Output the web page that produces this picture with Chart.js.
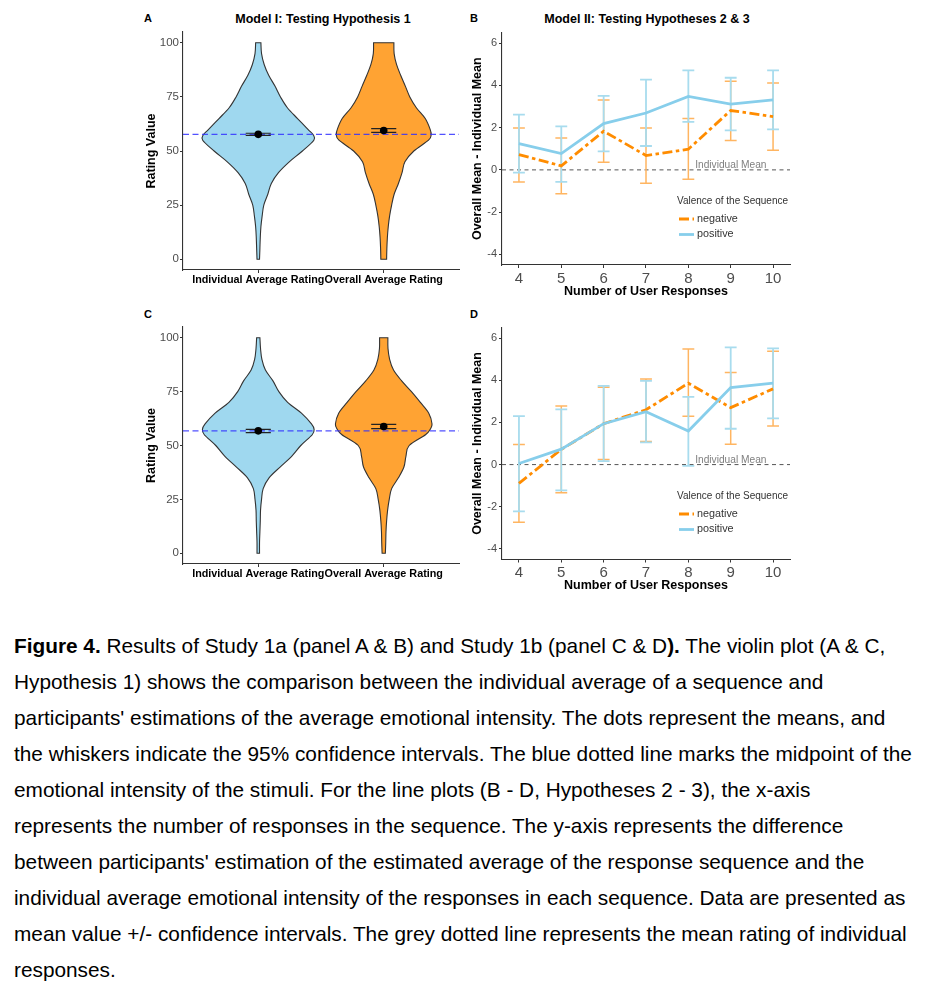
<!DOCTYPE html>
<html>
<head>
<meta charset="utf-8">
<script src="https://cdn.jsdelivr.net/npm/chart.js@4.4.0/dist/chart.umd.min.js"></script>
<style>
body { margin: 0; background: #fff; width: 930px; height: 989px; position: relative; overflow: hidden; font-family: "Liberation Sans", Arial, sans-serif; }
.panel { position: absolute; }
.letter { position: absolute; font-weight: bold; font-size: 11px; line-height: 11px; }
.title { position: absolute; font-weight: bold; font-size: 12.5px; line-height: 13px; white-space: nowrap; transform: translateX(-50%); }
#caption { position: absolute; left: 14px; top: 628px; font-size: 20.8px; line-height: 36px; white-space: nowrap; color: #000; }
</style>
</head>
<body>
<div class="letter" style="left:144px; top:13px;">A</div>
<div class="title" style="left:323px; top:13px;">Model I: Testing Hypothesis 1</div>
<div class="letter" style="left:470px; top:13px;">B</div>
<div class="title" style="left:647px; top:13px;">Model II: Testing Hypotheses 2 &amp; 3</div>
<div class="letter" style="left:144px; top:309px;">C</div>
<div class="letter" style="left:470px; top:309px;">D</div>

<div class="panel" style="left:140px; top:0px; width:323px; height:300px;"><canvas id="panelA"></canvas></div>
<div class="panel" style="left:465px; top:0px; width:340px; height:300px;"><canvas id="panelB"></canvas></div>
<div class="panel" style="left:140px; top:300px; width:323px; height:300px;"><canvas id="panelC"></canvas></div>
<div class="panel" style="left:465px; top:300px; width:340px; height:300px;"><canvas id="panelD"></canvas></div>

<div id="caption"><b>Figure 4.</b> Results of Study 1a (panel A &amp; B) and Study 1b (panel C &amp; D<b>).</b> The violin plot (A &amp; C,<br>Hypothesis 1) shows the comparison between the individual average of a sequence and<br>participants' estimations of the average emotional intensity. The dots represent the means, and<br>the whiskers indicate the 95% confidence intervals. The blue dotted line marks the midpoint of the<br>emotional intensity of the stimuli. For the line plots (B - D, Hypotheses 2 - 3), the x-axis<br>represents the number of responses in the sequence. The y-axis represents the difference<br>between participants' estimation of the estimated average of the response sequence and the<br>individual average emotional intensity of the responses in each sequence. Data are presented as<br>mean value +/- confidence intervals. The grey dotted line represents the mean rating of individual<br>responses.</div>

<script>
// ---- violin panels (A & C) ----
var violinCategories = ['Individual Average Rating', 'Overall Average Rating'];
var ratingTicks = [0, 25, 50, 75, 100];
var ratingLevels = [0, 5, 10, 15, 20, 25, 30, 35, 40, 45, 50, 55, 57.5, 60, 65, 70, 75, 80, 85, 90, 95, 100];

// violin half widths (in category units) at each rating level
var aIndividualWidth = [0.010, 0.013, 0.016, 0.021, 0.031, 0.044, 0.076, 0.104, 0.161, 0.247, 0.352, 0.443, 0.438, 0.396, 0.313, 0.232, 0.177, 0.133, 0.083, 0.047, 0.026, 0.021];
var aOverallWidth    = [0.023, 0.025, 0.029, 0.036, 0.047, 0.063, 0.083, 0.117, 0.146, 0.169, 0.240, 0.357, 0.378, 0.370, 0.331, 0.260, 0.208, 0.172, 0.135, 0.102, 0.083, 0.081];
var cIndividualWidth = [0.010, 0.010, 0.013, 0.016, 0.018, 0.026, 0.039, 0.086, 0.174, 0.266, 0.339, 0.430, 0.445, 0.424, 0.344, 0.234, 0.164, 0.117, 0.057, 0.029, 0.018, 0.013];
var cOverallWidth    = [0.013, 0.016, 0.018, 0.023, 0.031, 0.044, 0.063, 0.117, 0.161, 0.177, 0.203, 0.333, 0.370, 0.385, 0.359, 0.292, 0.221, 0.143, 0.078, 0.047, 0.034, 0.033];

var aMeans = [57.7, 59.5];
var aCiLow = [57.2, 58.6];
var aCiHigh = [58.2, 60.3];
var aMidpoint = 57.7;

var cMeans = [56.8, 58.8];
var cCiLow = [56.0, 57.8];
var cCiHigh = [57.5, 59.8];
var cMidpoint = 56.8;

// ---- line panels (B & D) ----
var userResponses = [4, 5, 6, 7, 8, 9, 10];
var diffTicks = [-4, -2, 0, 2, 4, 6];

var bNegMean = [0.72, 0.19, 1.83, 0.68, 0.98, 2.81, 2.52];
var bNegLow  = [-0.57, -1.13, 0.36, -0.63, -0.44, 1.39, 0.93];
var bNegHigh = [1.98, 1.51, 3.31, 1.98, 2.43, 4.19, 4.11];
var bPosMean = [1.24, 0.77, 2.19, 2.69, 3.48, 3.11, 3.31];
var bPosLow  = [-0.13, -0.57, 0.88, 1.13, 2.27, 1.87, 1.92];
var bPosHigh = [2.61, 2.06, 3.50, 4.27, 4.71, 4.36, 4.71];

var dNegMean = [-0.89, 0.72, 1.94, 2.60, 3.86, 2.70, 3.59];
var dNegLow  = [-2.73, -1.33, 0.24, 1.10, 2.29, 0.97, 1.83];
var dNegHigh = [0.95, 2.78, 3.67, 4.06, 5.48, 4.37, 5.37];
var dPosMean = [0.05, 0.73, 1.94, 2.51, 1.59, 3.65, 3.86];
var dPosLow  = [-2.22, -1.22, 0.16, 1.05, -0.06, 1.70, 2.19];
var dPosHigh = [2.30, 2.62, 3.73, 3.97, 3.21, 5.56, 5.51];

var fontFamily = '"Liberation Sans", Arial, sans-serif';
Chart.defaults.font.family = fontFamily;

var orangeLine = '#FF8C00';
var blueLine = '#87CEEB';

function curveThrough(ctx, pts) {
    for (var i = 0; i < pts.length - 1; i++) {
        var p0 = pts[i - 1] || pts[i], p1 = pts[i], p2 = pts[i + 1], p3 = pts[i + 2] || pts[i + 1];
        ctx.bezierCurveTo(
            p1[0] + (p2[0] - p0[0]) / 6, p1[1] + (p2[1] - p0[1]) / 6,
            p2[0] - (p3[0] - p1[0]) / 6, p2[1] - (p3[1] - p1[1]) / 6,
            p2[0], p2[1]);
    }
}

var violinPlugin = {
    id: 'violins',
    beforeDatasetsDraw: function (chart, args, opts) {
        var ctx = chart.ctx, xs = chart.scales.x, ys = chart.scales.y, area = chart.chartArea;
        ctx.save();
        opts.widths.forEach(function (w, i) {
            var center = i + 1, right = [], left = [], k;
            for (k = 0; k < ratingLevels.length; k++) {
                right.push([xs.getPixelForValue(center + w[k]), ys.getPixelForValue(ratingLevels[k])]);
            }
            for (k = ratingLevels.length - 1; k >= 0; k--) {
                left.push([xs.getPixelForValue(center - w[k]), ys.getPixelForValue(ratingLevels[k])]);
            }
            ctx.beginPath();
            ctx.moveTo(right[0][0], right[0][1]);
            curveThrough(ctx, right);
            ctx.lineTo(left[0][0], left[0][1]);
            curveThrough(ctx, left);
            ctx.closePath();
            ctx.fillStyle = opts.fills[i];
            ctx.fill();
            ctx.lineWidth = 1.1;
            ctx.strokeStyle = '#333';
            ctx.stroke();
        });

        // midpoint reference line
        var yRef = ys.getPixelForValue(opts.midpoint);
        ctx.beginPath();
        ctx.setLineDash([6, 3.5]);
        ctx.strokeStyle = 'rgba(50,50,255,0.85)';
        ctx.lineWidth = 1.3;
        ctx.moveTo(area.left, yRef);
        ctx.lineTo(area.right, yRef);
        ctx.stroke();
        ctx.setLineDash([]);

        // 95% CI whiskers
        ctx.strokeStyle = '#222';
        ctx.lineWidth = 1.2;
        opts.ciLow.forEach(function (lo, i) {
            var c = i + 1;
            var xl = xs.getPixelForValue(c - 0.1), xr = xs.getPixelForValue(c + 0.1), xc = xs.getPixelForValue(c);
            var yl = ys.getPixelForValue(lo), yh = ys.getPixelForValue(opts.ciHigh[i]);
            ctx.beginPath();
            ctx.moveTo(xl, yl); ctx.lineTo(xr, yl);
            ctx.moveTo(xl, yh); ctx.lineTo(xr, yh);
            ctx.moveTo(xc, yl); ctx.lineTo(xc, yh);
            ctx.stroke();
        });
        ctx.restore();
    }
};

var errorBarPlugin = {
    id: 'errorBars',
    beforeDatasetsDraw: function (chart, args, opts) {
        var ctx = chart.ctx, xs = chart.scales.x, ys = chart.scales.y, area = chart.chartArea;
        ctx.save();
        var y0 = ys.getPixelForValue(0);
        ctx.strokeStyle = '#555';
        ctx.lineWidth = 1;
        ctx.setLineDash([4, 3.5]);
        ctx.beginPath();
        ctx.moveTo(area.left, y0);
        ctx.lineTo(area.right, y0);
        ctx.stroke();
        ctx.setLineDash([]);

        ctx.fillStyle = '#808080';
        ctx.font = '10.2px ' + fontFamily;
        ctx.textAlign = 'left';
        ctx.textBaseline = 'alphabetic';
        ctx.fillText('Individual Mean', xs.getPixelForValue(8.16), y0 - 1.5);

        opts.bars.forEach(function (bar) {
            ctx.strokeStyle = bar.color;
            ctx.lineWidth = bar.width;
            userResponses.forEach(function (n, i) {
                var x = xs.getPixelForValue(n), xl = xs.getPixelForValue(n - 0.14), xr = xs.getPixelForValue(n + 0.14);
                var yl = ys.getPixelForValue(bar.low[i]), yh = ys.getPixelForValue(bar.high[i]);
                ctx.beginPath();
                ctx.moveTo(x, yl); ctx.lineTo(x, yh);
                ctx.moveTo(xl, yl); ctx.lineTo(xr, yl);
                ctx.moveTo(xl, yh); ctx.lineTo(xr, yh);
                ctx.stroke();
            });
        });
        ctx.restore();
    },
    afterDatasetsDraw: function (chart) {
        var ctx = chart.ctx, area = chart.chartArea;
        var lx = area.left + 175, ly = area.top + 168.5;
        ctx.save();
        ctx.fillStyle = '#333';
        ctx.textAlign = 'left';
        ctx.textBaseline = 'middle';
        ctx.font = '10px ' + fontFamily;
        ctx.fillText('Valence of the Sequence', lx, ly);
        ctx.font = '10.8px ' + fontFamily;
        chart.data.datasets.slice().sort(function (a, b) { return b.order - a.order; }).forEach(function (ds, j) {
            var yy = ly + 18 + j * 15.5;
            ctx.beginPath();
            ctx.strokeStyle = ds.borderColor;
            ctx.lineWidth = ds.borderWidth;
            ctx.setLineDash(ds.borderDash || []);
            ctx.moveTo(lx + 2, yy);
            ctx.lineTo(lx + 17, yy);
            ctx.stroke();
            ctx.setLineDash([]);
            ctx.fillText(ds.label, lx + 20, yy);
        });
        ctx.restore();
    }
};

function axisLook() {
    return {
        grid: { display: true, drawOnChartArea: false, drawTicks: true, tickLength: 3, color: '#333' },
        border: { display: true, color: '#333', width: 1.1 }
    };
}

function makeViolinChart(id, widths, means, ciLow, ciHigh, midpoint, padTop, padBottom) {
    var xAxis = axisLook(), yAxis = axisLook();
    xAxis.type = 'linear';
    xAxis.min = 0.4;
    xAxis.max = 2.6;
    xAxis.afterBuildTicks = function (s) { s.ticks = violinCategories.map(function (c, i) { return { value: i + 1 }; }); };
    xAxis.afterFit = function (s) { s.height = 30; };
    xAxis.ticks = {
        color: '#000', padding: 0.5, maxRotation: 0, autoSkip: false,
        font: { size: 10.8, weight: 'bold' },
        callback: function (v) { return violinCategories[v - 1]; }
    };
    yAxis.min = -5;
    yAxis.max = 105;
    yAxis.afterBuildTicks = function (s) { s.ticks = ratingTicks.map(function (v) { return { value: v }; }); };
    yAxis.afterFit = function (s) { s.width = 43; };
    yAxis.ticks = { color: '#4d4d4d', padding: 1, font: { size: 11.5 } };
    yAxis.title = { display: true, text: 'Rating Value', color: '#000', font: { size: 12.5, weight: 'bold' }, padding: { top: 4.5, bottom: 0 } };

    return new Chart(document.getElementById(id), {
        type: 'scatter',
        data: {
            datasets: [{
                data: means.map(function (m, i) { return { x: i + 1, y: m }; }),
                pointRadius: 3.8,
                pointBackgroundColor: '#000',
                pointBorderColor: '#000',
                pointBorderWidth: 0
            }]
        },
        options: {
            animation: false,
            responsive: true,
            maintainAspectRatio: false,
            layout: { padding: { top: padTop, left: 0, right: 0, bottom: padBottom } },
            plugins: {
                legend: { display: false },
                tooltip: { enabled: false },
                violins: {
                    widths: widths,
                    fills: ['#9FD8EF', '#FFA333'],
                    midpoint: midpoint,
                    ciLow: ciLow,
                    ciHigh: ciHigh
                }
            },
            scales: { x: xAxis, y: yAxis }
        },
        plugins: [violinPlugin]
    });
}

function makeLineChart(id, negMean, negLow, negHigh, posMean, posLow, posHigh, padTop, padBottom, xHeight) {
    var xAxis = axisLook(), yAxis = axisLook();
    xAxis.type = 'linear';
    xAxis.min = 3.6;
    xAxis.max = 10.4;
    xAxis.afterBuildTicks = function (s) { s.ticks = userResponses.map(function (v) { return { value: v }; }); };
    xAxis.afterFit = function (s) { s.height = xHeight; };
    xAxis.ticks = { color: '#4d4d4d', padding: 1.5, maxRotation: 0, autoSkip: false, font: { size: 15 } };
    xAxis.title = { display: true, text: 'Number of User Responses', color: '#000', font: { size: 12.5, weight: 'bold' }, padding: { top: 0, bottom: 0 } };
    yAxis.min = -4.5;
    yAxis.max = 6.5;
    yAxis.afterBuildTicks = function (s) { s.ticks = diffTicks.map(function (v) { return { value: v }; }); };
    yAxis.afterFit = function (s) { s.width = 37; };
    yAxis.ticks = { color: '#4d4d4d', padding: 2, font: { size: 11 } };
    yAxis.title = { display: true, text: 'Overall Mean - Individual Mean', color: '#000', font: { size: 12.5, weight: 'bold' }, padding: { top: 5.5, bottom: 0 } };

    function pts(arr) { return userResponses.map(function (n, i) { return { x: n, y: arr[i] }; }); }

    return new Chart(document.getElementById(id), {
        type: 'line',
        data: {
            datasets: [
                { label: 'negative', data: pts(negMean), borderColor: orangeLine, borderWidth: 2.8, borderDash: [10, 3.5, 3.5, 3.5], pointRadius: 0, tension: 0, fill: false, order: 1 },
                { label: 'positive', data: pts(posMean), borderColor: blueLine, borderWidth: 2.8, pointRadius: 0, tension: 0, fill: false, order: 0 }
            ]
        },
        options: {
            animation: false,
            responsive: true,
            maintainAspectRatio: false,
            layout: { padding: { top: padTop, left: 0, right: 15, bottom: padBottom } },
            plugins: {
                legend: { display: false },
                tooltip: { enabled: false },
                errorBars: {
                    bars: [
                        { low: negLow, high: negHigh, color: '#FFB561', width: 1.5 },
                        { low: posLow, high: posHigh, color: '#A8DCEE', width: 1.8 }
                    ]
                }
            },
            scales: { x: xAxis, y: yAxis }
        },
        plugins: [errorBarPlugin]
    });
}

makeViolinChart('panelA', [aIndividualWidth, aOverallWidth], aMeans, aCiLow, aCiHigh, aMidpoint, 32, 0);
makeViolinChart('panelC', [cIndividualWidth, cOverallWidth], cMeans, cCiLow, cCiHigh, cMidpoint, 27, 6);
makeLineChart('panelB', bNegMean, bNegLow, bNegHigh, bPosMean, bPosLow, bPosHigh, 32.5, 0.5, 34.5);
makeLineChart('panelD', dNegMean, dNegLow, dNegHigh, dPosMean, dPosLow, dPosHigh, 27.5, 7, 33.5);
</script>
</body>
</html>
